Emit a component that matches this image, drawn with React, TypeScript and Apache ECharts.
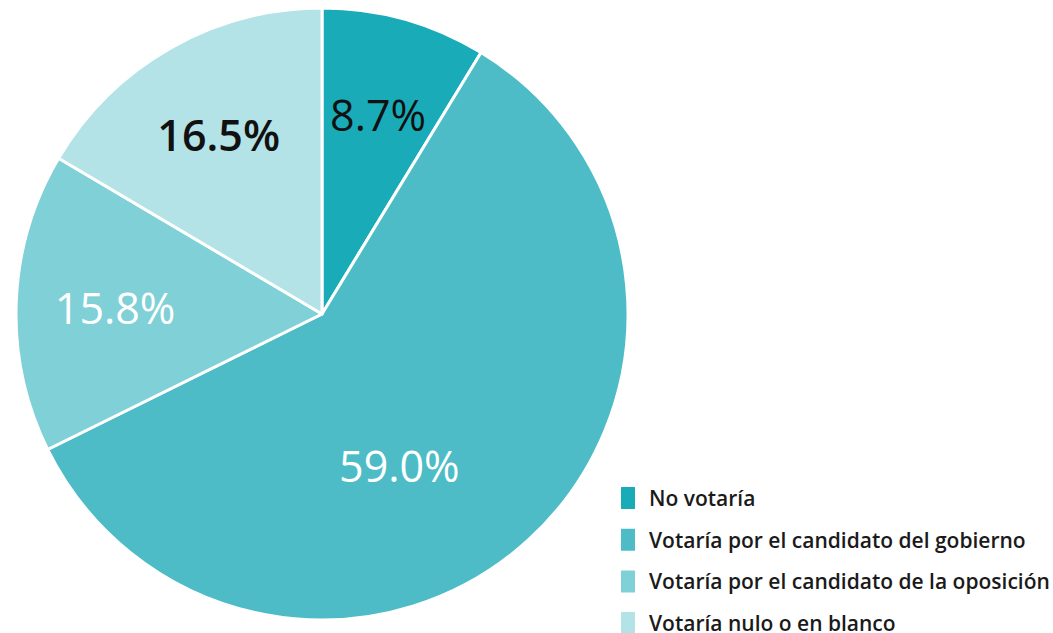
import React, { useEffect, useRef } from "react";
import * as echarts from "echarts";

const categories = [
  "No votaría",
  "Votaría por el candidato del gobierno",
  "Votaría por el candidato de la oposición",
  "Votaría nulo o en blanco",
];
const values = [8.7, 59.0, 15.8, 16.5];
const colors = ["#1AABB8", "#4DBCC6", "#80D0D7", "#B3E3E7"];
const labelColors = ["#111111", "#ffffff", "#ffffff", "#111111"];
const labelWeights = [400, 400, 400, 600];
const labelOffsets = [
  [14, -49],
  [-28, 36],
  [-51, -1],
  [-26, -44],
];

export default function App() {
  const ref = useRef<HTMLDivElement>(null);
  useEffect(() => {
    if (!ref.current) return;
    const chart = echarts.init(ref.current, undefined, { renderer: "svg" });
    chart.setOption({
      animation: false,
      legend: {
        orient: "vertical",
        left: 619,
        top: 485,
        width: 430,
        height: 300,
        padding: 0,
        itemWidth: 16,
        itemHeight: 24,
        itemGap: 15.7,
        icon: "rect",
        textStyle: {
          fontFamily: "Open Sans",
          fontSize: 21,
          fontWeight: 600,
          color: "#1a1a1a",
          padding: [0, 0, 0, 8],
        },
        data: categories,
      },
      series: [
        {
          type: "pie",
          center: [322, 314],
          radius: [0, 306],
          startAngle: 90,
          clockwise: true,
          itemStyle: { borderColor: "#ffffff", borderWidth: 3 },
          label: {
            show: true,
            position: "inside",
            fontFamily: "Open Sans",
            fontSize: 43,
            formatter: (p: any) => p.value.toFixed(1) + "%",
          },
          labelLine: { show: false },
          emphasis: { disabled: true },
          data: categories.map((name, i) => ({
            name,
            value: values[i],
            itemStyle: { color: colors[i] },
            label: {
              color: labelColors[i],
              fontWeight: labelWeights[i],
              offset: labelOffsets[i],
            },
          })),
        },
      ],
    });
    return () => chart.dispose();
  }, []);
  return (
    <div
      ref={ref}
      style={{ position: "fixed", left: 0, top: 0, width: 1053, height: 633, background: "#fff" }}
    />
  );
}
